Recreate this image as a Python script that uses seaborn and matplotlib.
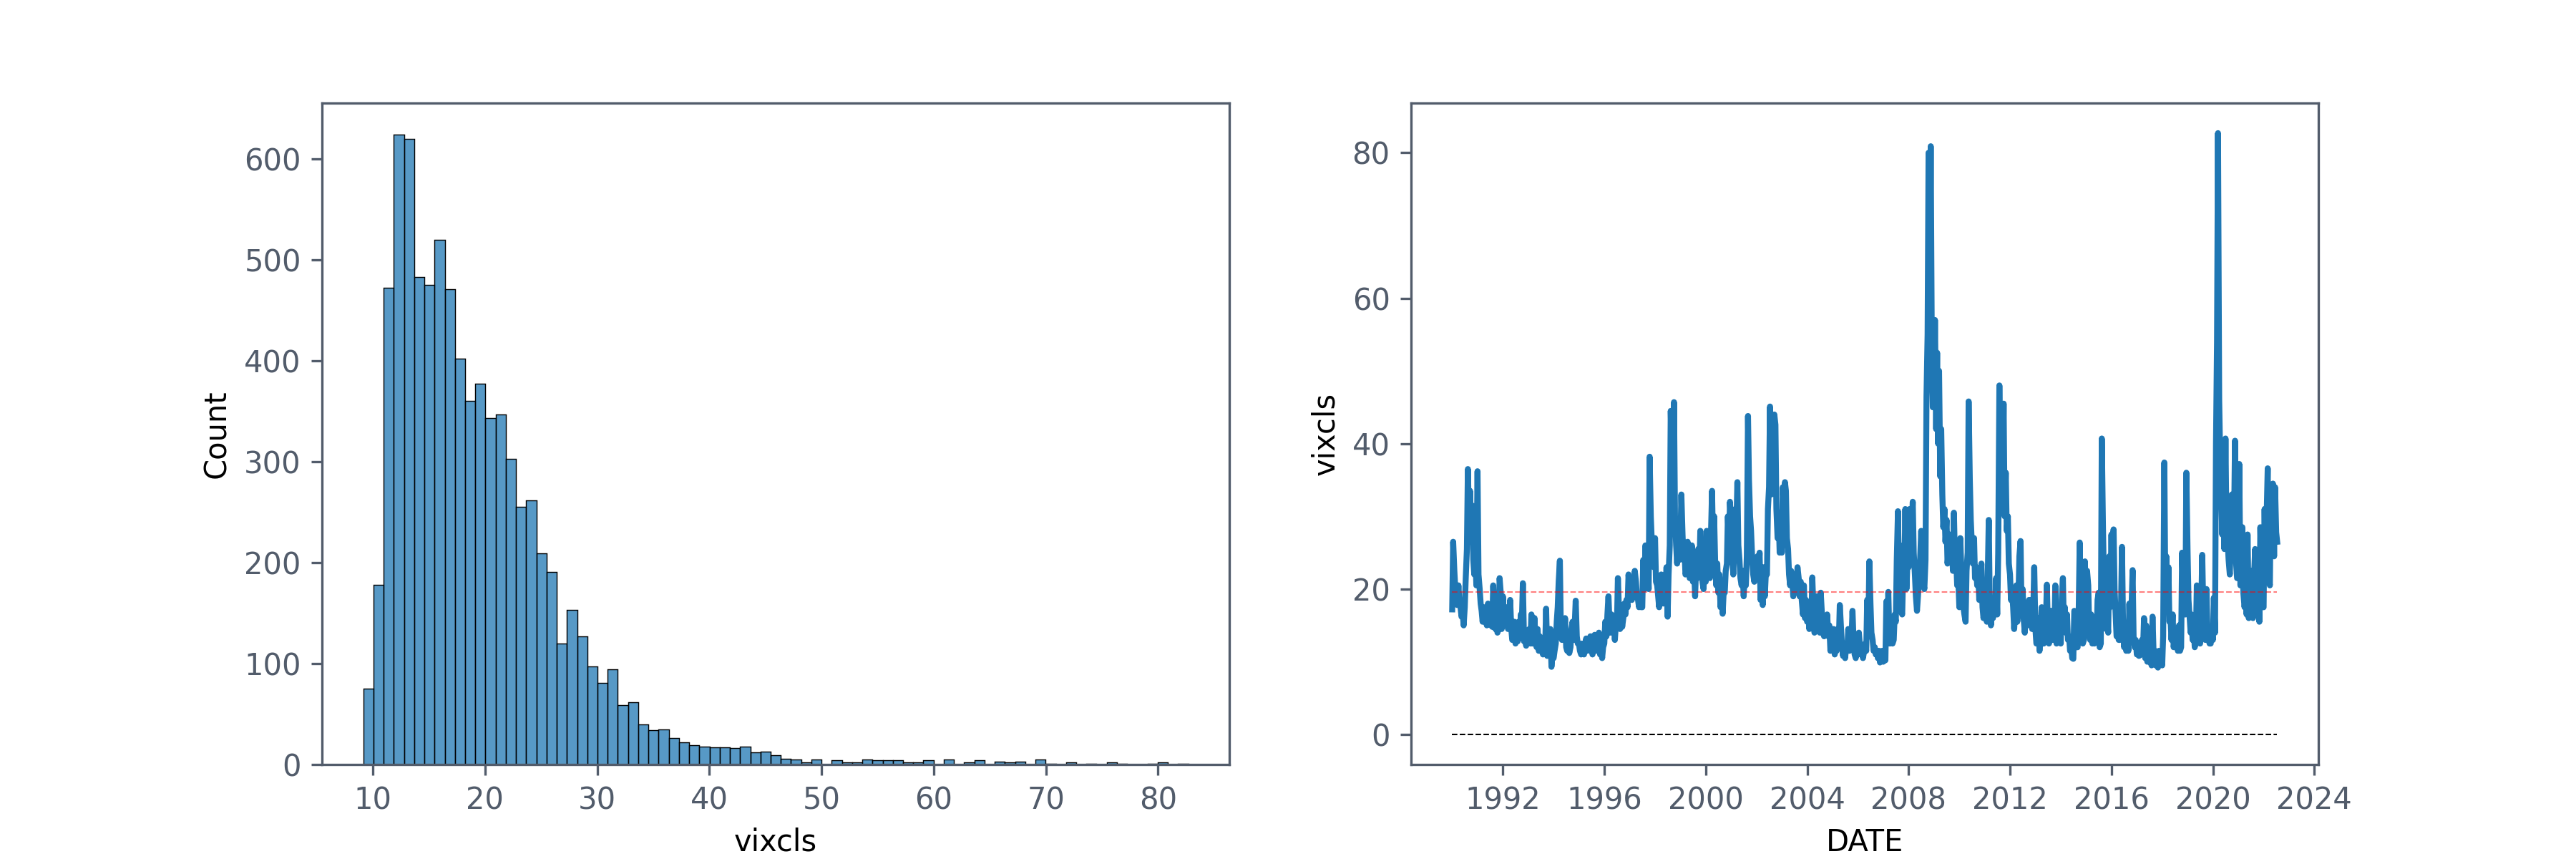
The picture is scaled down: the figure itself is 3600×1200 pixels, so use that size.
import numpy as np
import pandas as pd
import matplotlib
matplotlib.use("Agg")
import matplotlib.pyplot as plt
import seaborn as sns

# ---------------- data ----------------
# histogram of vixcls: 81 equal bins between the min and max value
hist_min = 9.14
hist_max = 82.69
n_bins = 81
bin_counts = [
    75, 178, 472, 624, 620, 483, 475, 520, 471, 402,
    360, 377, 343, 347, 303, 255, 262, 209, 191, 120,
    153, 127, 97, 81, 94, 59, 62, 40, 34, 35,
    26, 22, 19, 18, 17, 17, 16, 18, 12, 13,
    9, 6, 5, 2, 5, 0, 4, 2, 2, 5,
    4, 4, 4, 2, 2, 4, 0, 5, 0, 2,
    4, 0, 3, 2, 3, 0, 5, 1, 0, 2,
    0, 1, 0, 2, 1, 0, 0, 1, 2, 0,
    1,
]

# time series: two readings per month (1st and 15th), by year
vix_1990 = [17.2, 26.5, 22.5, 20.0, 19.5, 17.8, 20.5, 18.0, 17.5, 16.2, 16.8, 15.0,
            17.5, 21.5, 25.5, 36.5, 29.0, 33.5, 26.5, 31.5, 24.0, 22.0, 24.5, 20.5]
vix_1991 = [36.2, 22.0, 20.0, 18.0, 17.0, 15.5, 17.5, 15.5, 16.5, 15.0, 18.0, 15.5,
            16.5, 15.0, 14.8, 20.5, 16.0, 14.5, 16.0, 14.0, 14.5, 21.5, 19.5, 14.5]
vix_1992 = [19.0, 16.5, 15.5, 17.5, 16.0, 14.5, 15.5, 18.5, 14.5, 13.0, 13.5, 15.5,
            12.5, 14.0, 12.8, 15.5, 13.2, 16.5, 15.5, 20.8, 12.8, 13.5, 12.2, 13.0]
vix_1993 = [12.5, 14.5, 12.5, 16.5, 12.5, 13.5, 16.0, 12.5, 12.0, 14.5, 11.5, 13.5,
            12.5, 11.5, 11.0, 12.8, 12.0, 17.3, 10.8, 12.5, 11.5, 14.5, 9.3, 11.0]
vix_1994 = [10.5, 11.5, 12.5, 15.5, 17.5, 21.0, 23.9, 14.5, 13.0, 15.5, 13.5, 16.0,
            12.0, 11.5, 12.0, 11.2, 12.0, 14.5, 15.5, 13.0, 15.0, 18.4, 13.5, 12.5]
vix_1995 = [12.5, 11.5, 11.0, 12.5, 12.2, 11.0, 12.0, 13.2, 11.5, 12.5, 11.8, 13.5,
            12.5, 11.0, 12.0, 13.7, 12.5, 11.5, 12.0, 14.0, 11.0, 12.5, 10.5, 12.0]
vix_1996 = [12.5, 15.5, 13.5, 16.5, 19.0, 15.5, 14.0, 16.5, 14.5, 16.0, 13.0, 15.0,
            15.0, 21.5, 16.5, 14.5, 17.0, 14.8, 16.0, 18.0, 16.5, 18.5, 17.5, 22.0]
vix_1997 = [19.5, 21.0, 18.5, 20.0, 20.0, 22.5, 21.0, 19.0, 18.5, 17.5, 19.0, 17.5,
            17.5, 24.0, 20.0, 26.0, 22.5, 24.5, 20.0, 38.2, 30.0, 26.5, 25.0, 23.0]
vix_1998 = [27.0, 21.0, 20.5, 19.0, 17.5, 21.0, 22.0, 19.5, 18.0, 21.5, 19.5, 23.0,
            16.2, 22.0, 26.0, 44.5, 38.0, 32.0, 45.7, 30.0, 26.0, 23.5, 27.0, 24.0]
vix_1999 = [26.0, 33.0, 27.5, 24.0, 25.5, 22.0, 22.5, 26.5, 25.0, 21.5, 22.5, 26.0,
            21.0, 23.5, 19.0, 23.0, 21.5, 25.5, 22.5, 28.0, 22.5, 21.0, 20.0, 24.5]
vix_2000 = [21.0, 28.0, 23.0, 26.0, 21.5, 27.0, 33.5, 26.0, 30.0, 24.0, 20.5, 23.5,
            19.5, 22.0, 17.5, 20.0, 16.6, 19.5, 19.5, 22.5, 23.5, 30.0, 26.0, 32.0]
vix_2001 = [29.0, 25.0, 22.0, 26.0, 31.0, 27.5, 34.7, 26.0, 24.0, 21.5, 20.5, 22.5,
            19.0, 22.5, 20.5, 24.5, 43.8, 35.0, 30.0, 28.0, 24.0, 22.0, 21.0, 24.0]
vix_2002 = [21.5, 24.5, 22.0, 25.0, 18.5, 20.5, 17.8, 23.0, 19.0, 22.0, 22.0, 31.0,
            34.0, 45.1, 33.0, 40.0, 34.0, 44.0, 42.6, 31.0, 27.0, 30.5, 25.0, 30.0]
vix_2003 = [25.0, 34.0, 31.0, 34.7, 33.5, 27.0, 25.5, 22.0, 20.5, 22.5, 21.0, 19.0,
            22.0, 19.5, 20.0, 23.0, 21.5, 19.0, 21.0, 18.5, 16.5, 20.5, 16.0, 18.5]
vix_2004 = [15.5, 17.0, 14.5, 16.5, 15.0, 21.6, 17.0, 14.0, 14.5, 19.0, 14.5, 17.0,
            14.0, 19.5, 16.5, 14.0, 13.5, 14.5, 14.5, 16.5, 13.5, 15.0, 11.5, 13.5]
vix_2005 = [12.5, 14.5, 11.0, 12.5, 11.5, 14.5, 12.5, 17.8, 15.0, 12.5, 10.8, 12.5,
            10.5, 12.0, 11.5, 14.5, 11.5, 12.5, 13.0, 17.0, 12.5, 11.0, 10.5, 12.0]
vix_2006 = [11.0, 14.0, 12.0, 11.0, 12.0, 10.5, 11.5, 12.5, 11.5, 18.5, 15.0, 23.8,
            18.0, 14.0, 13.0, 11.5, 12.0, 11.0, 11.5, 10.5, 11.5, 9.9, 10.5, 11.5]
vix_2007 = [10.0, 11.5, 10.2, 18.3, 13.0, 19.6, 12.5, 14.0, 13.5, 12.5, 13.0, 16.5,
            15.5, 24.0, 30.7, 22.0, 26.0, 17.0, 16.5, 22.5, 22.0, 31.0, 20.0, 23.5]
vix_2008 = [23.0, 31.0, 24.5, 28.5, 32.0, 25.0, 22.0, 19.0, 17.0, 19.0, 22.0, 24.0,
            28.0, 23.0, 21.0, 20.0, 24.0, 46.5, 55.0, 80.0, 59.5, 80.9, 52.5, 45.0]
vix_2009 = [45.0, 57.0, 42.0, 52.5, 40.0, 50.0, 35.5, 42.0, 33.0, 28.5, 31.0, 26.5,
            29.5, 23.5, 25.5, 27.5, 24.0, 26.0, 22.5, 30.5, 23.0, 24.5, 20.5, 22.0]
vix_2010 = [17.5, 27.0, 22.0, 19.0, 17.5, 16.5, 15.5, 22.5, 25.0, 45.8, 35.0, 29.5,
            26.0, 23.5, 27.0, 21.5, 23.0, 20.5, 22.0, 18.5, 20.5, 23.5, 17.5, 16.0]
vix_2011 = [17.5, 20.5, 15.5, 22.0, 29.5, 18.0, 15.0, 17.0, 16.0, 18.5, 17.0, 21.5,
            16.5, 25.0, 48.0, 36.5, 41.5, 34.0, 45.5, 30.0, 36.0, 28.0, 30.0, 23.5]
vix_2012 = [22.0, 18.5, 19.5, 17.5, 14.5, 17.0, 20.5, 15.5, 18.5, 24.5, 26.6, 17.0,
            20.0, 16.0, 14.0, 17.0, 15.0, 16.5, 18.5, 15.0, 18.5, 14.5, 17.0, 23.0]
vix_2013 = [14.5, 12.5, 13.0, 16.0, 11.5, 14.0, 17.5, 12.5, 12.5, 14.0, 15.5, 20.6,
            14.0, 12.5, 13.0, 17.0, 15.5, 13.0, 14.0, 20.5, 12.5, 13.5, 13.0, 16.0]
vix_2014 = [12.5, 18.5, 21.5, 14.5, 17.5, 14.0, 16.5, 13.0, 13.5, 11.5, 12.0, 10.5,
            10.4, 17.0, 16.5, 12.0, 12.0, 16.0, 26.4, 17.0, 14.0, 12.5, 13.0, 23.8]
vix_2015 = [16.0, 22.5, 20.5, 14.0, 13.0, 16.5, 12.5, 15.5, 12.5, 15.0, 13.0, 18.5,
            19.5, 12.0, 12.5, 40.7, 28.5, 21.0, 21.0, 14.5, 16.0, 14.0, 24.5, 17.5]
vix_2016 = [27.5, 20.0, 28.2, 20.0, 16.5, 13.5, 14.0, 13.0, 13.0, 15.5, 25.8, 16.0,
            12.0, 13.5, 11.5, 13.0, 11.5, 18.0, 13.0, 17.0, 22.6, 13.5, 12.0, 13.0]
vix_2017 = [11.0, 12.5, 10.8, 12.5, 11.0, 13.0, 12.0, 16.0, 10.5, 15.0, 10.0, 11.5,
            10.0, 11.5, 9.5, 16.2, 10.5, 11.5, 9.5, 10.5, 9.2, 11.5, 10.0, 11.0]
vix_2018 = [9.5, 13.5, 37.4, 19.5, 24.5, 17.0, 23.0, 15.5, 16.0, 13.0, 16.5, 12.0,
            13.0, 12.0, 13.5, 11.5, 15.0, 11.5, 12.0, 25.0, 19.0, 22.5, 16.5, 36.0]
vix_2019 = [25.5, 18.5, 16.0, 14.0, 16.5, 13.0, 14.5, 12.0, 13.0, 20.5, 18.5, 15.0,
            12.5, 16.0, 24.7, 17.5, 15.5, 13.0, 20.0, 14.0, 13.0, 12.5, 12.5, 14.5]
vix_2020 = [13.0, 18.8, 14.0, 40.0, 54.0, 82.7, 46.0, 38.0, 33.0, 27.5, 36.5, 25.5,
            40.7, 28.0, 26.5, 24.0, 22.0, 26.5, 33.0, 26.0, 28.5, 40.4, 23.5, 21.5]
vix_2021 = [21.5, 37.2, 20.5, 28.0, 28.5, 19.5, 17.5, 19.0, 16.5, 27.5, 16.0, 20.5,
            16.5, 22.5, 16.0, 21.5, 25.5, 17.5, 16.5, 21.0, 15.5, 28.5, 22.0, 17.5]
vix_2022 = [17.5, 31.0, 21.0, 30.5, 36.6, 21.5, 20.5, 33.5, 26.0, 34.5, 24.5, 34.0,
            27.8, 26.5]

vix_mean = 19.56   # red dashed reference line
zero_level = 0.0   # black dashed reference line
series_start = "1990-01-01"

# ---------------- styling ----------------
spine_col = "#525c6b"
plt.rcParams.update({
    "font.family": ["DejaVu Sans"],
    "axes.edgecolor": spine_col,
    "xtick.color": spine_col,
    "ytick.color": spine_col,
    "axes.labelcolor": "black",
    "patch.edgecolor": "black",
})

fig, (ax1, ax2) = plt.subplots(1, 2, figsize=(12, 4), dpi=300)

# ---------------- left: histogram ----------------
edges = np.linspace(hist_min, hist_max, n_bins + 1)
centers = (edges[:-1] + edges[1:]) / 2
hist_df = pd.DataFrame({"vixcls": centers, "n": bin_counts})
sns.histplot(data=hist_df, x="vixcls", weights="n", bins=edges.tolist(), ax=ax1)
ax1.set_ylabel("Count")
ax1.set_xlabel("vixcls")

# ---------------- right: time series ----------------
values = (vix_1990 + vix_1991 + vix_1992 + vix_1993 + vix_1994 + vix_1995 + vix_1996
          + vix_1997 + vix_1998 + vix_1999 + vix_2000 + vix_2001 + vix_2002 + vix_2003
          + vix_2004 + vix_2005 + vix_2006 + vix_2007 + vix_2008 + vix_2009 + vix_2010
          + vix_2011 + vix_2012 + vix_2013 + vix_2014 + vix_2015 + vix_2016 + vix_2017
          + vix_2018 + vix_2019 + vix_2020 + vix_2021 + vix_2022)
dates = pd.date_range(series_start, periods=len(values), freq="SMS")
ts = pd.DataFrame({"DATE": dates, "vixcls": values})
sns.lineplot(data=ts, x="DATE", y="vixcls", ax=ax2, estimator=None, linewidth=2.0)
ax2.hlines(vix_mean, dates[0], dates[-1], colors="red", linestyles="--",
           linewidth=0.5, alpha=0.5)
ax2.hlines(zero_level, dates[0], dates[-1], colors="black", linestyles="--",
           linewidth=0.5)

fig.savefig("out.png", dpi=300)
